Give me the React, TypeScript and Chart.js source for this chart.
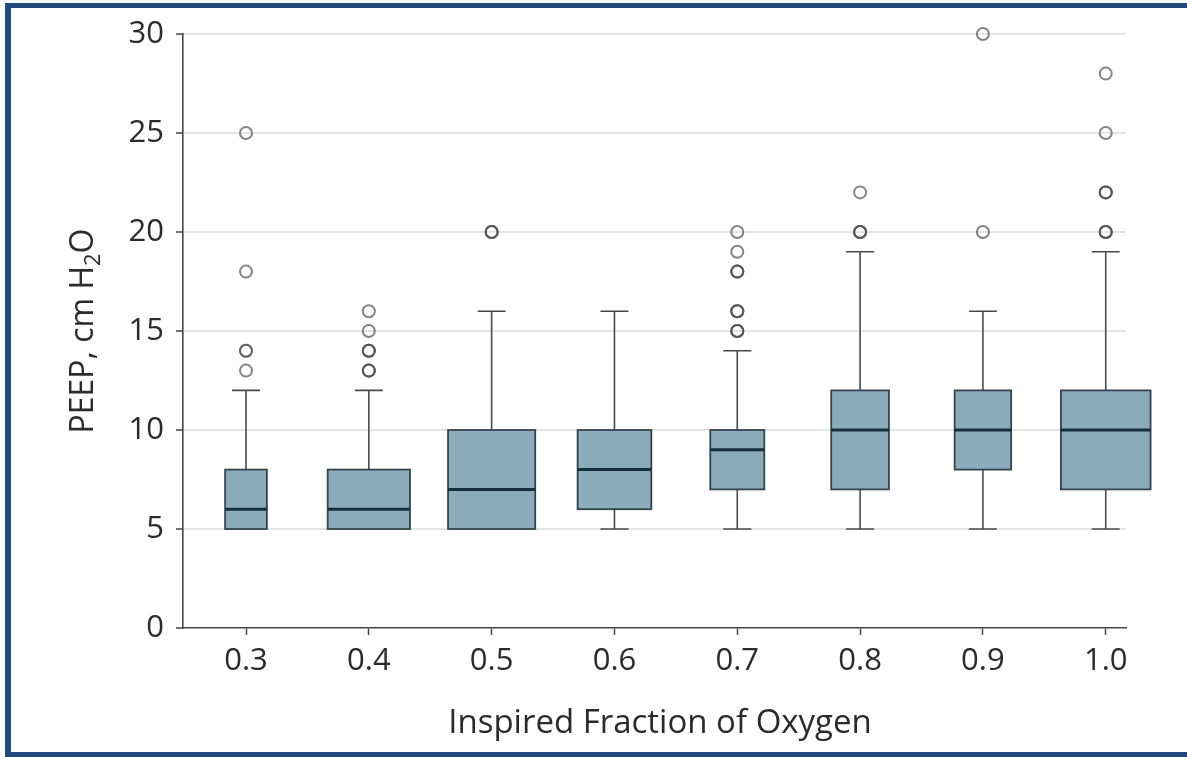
import React, { useEffect, useRef } from "react";
import { Chart, registerables } from "chart.js";

Chart.register(...registerables);

// ---- data ----
const categories = [0.3, 0.4, 0.5, 0.6, 0.7, 0.8, 0.9, 1.0];
const tickLabels = ["0.3", "0.4", "0.5", "0.6", "0.7", "0.8", "0.9", "1.0"];
const whiskerLow = [5, 5, 5, 5, 5, 5, 5, 5];
const q1 = [5, 5, 5, 6, 7, 7, 8, 7];
const median = [6, 6, 7, 8, 9, 10, 10, 10];
const q3 = [8, 8, 10, 10, 10, 12, 12, 12];
const whiskerHigh = [12, 12, 16, 16, 14, 19, 16, 19];
// relative group size (box width, in FiO2 units)
const groupWidth = [0.034, 0.067, 0.071, 0.06, 0.044, 0.047, 0.046, 0.073];
// outliers (repeated values = several patients at the same value)
const outliers03 = [13, 14, 14, 18, 25];
const outliers04 = [13, 13, 13, 14, 14, 14, 15, 16];
const outliers05 = [20, 20, 20];
const outliers06: number[] = [];
const outliers07 = [15, 15, 15, 16, 16, 16, 18, 18, 18, 19, 20];
const outliers08 = [20, 20, 20, 22];
const outliers09 = [20, 30];
const outliers10 = [20, 20, 20, 22, 22, 22, 25, 28];
const outlierGroups = [outliers03, outliers04, outliers05, outliers06, outliers07, outliers08, outliers09, outliers10];
const yTicks = [0, 5, 10, 15, 20, 25, 30];

const FONT = "'Open Sans', 'DejaVu Sans', sans-serif";

const boxPlugin = {
  id: "boxes",
  beforeDatasetsDraw(chart: any) {
    const { ctx, scales } = chart;
    const xs = scales.x;
    const ys = scales.y;
    ctx.save();
    categories.forEach((c, i) => {
      const xc = xs.getPixelForValue(c);
      const xl = xs.getPixelForValue(c - groupWidth[i] / 2);
      const xr = xs.getPixelForValue(c + groupWidth[i] / 2);
      const capHalf = 14;
      const yQ1 = ys.getPixelForValue(q1[i]);
      const yQ3 = ys.getPixelForValue(q3[i]);
      const yMed = ys.getPixelForValue(median[i]);
      const yLo = ys.getPixelForValue(whiskerLow[i]);
      const yHi = ys.getPixelForValue(whiskerHigh[i]);
      // whiskers
      ctx.strokeStyle = "#4a4a4a";
      ctx.lineWidth = 1.6;
      ctx.beginPath();
      ctx.moveTo(xc, yQ3);
      ctx.lineTo(xc, yHi);
      ctx.moveTo(xc - capHalf, yHi);
      ctx.lineTo(xc + capHalf, yHi);
      if (whiskerLow[i] < q1[i]) {
        ctx.moveTo(xc, yQ1);
        ctx.lineTo(xc, yLo);
        ctx.moveTo(xc - capHalf, yLo);
        ctx.lineTo(xc + capHalf, yLo);
      }
      ctx.stroke();
      // box
      ctx.fillStyle = "rgb(140,172,188)";
      ctx.fillRect(xl, yQ3, xr - xl, yQ1 - yQ3);
      ctx.strokeStyle = "#35444b";
      ctx.lineWidth = 1.8;
      ctx.strokeRect(xl, yQ3, xr - xl, yQ1 - yQ3);
      // median
      ctx.strokeStyle = "#14303c";
      ctx.lineWidth = 3;
      ctx.beginPath();
      ctx.moveTo(xl, yMed);
      ctx.lineTo(xr, yMed);
      ctx.stroke();
    });
    ctx.restore();
  },
  afterDraw(chart: any) {
    const { ctx, chartArea } = chart;
    ctx.save();
    ctx.fillStyle = "#2b2b2b";
    // x title
    ctx.font = `33px ${FONT}`;
    ctx.textAlign = "center";
    ctx.textBaseline = "alphabetic";
    ctx.fillText("Inspired Fraction of Oxygen", 660, 733);
    // y title with subscript
    const main1 = "PEEP, cm H";
    const sub = "2";
    const main2 = "O";
    ctx.font = `32px ${FONT}`;
    const w1 = ctx.measureText(main1).width;
    const w3 = ctx.measureText(main2).width;
    ctx.font = `22px ${FONT}`;
    const w2 = ctx.measureText(sub).width;
    const total = w1 + w2 + w3;
    const cy = (chartArea.top + chartArea.bottom) / 2;
    ctx.translate(93, cy);
    ctx.rotate(-Math.PI / 2);
    ctx.textAlign = "left";
    const x0 = -total / 2;
    ctx.font = `32px ${FONT}`;
    ctx.fillText(main1, x0, 0);
    ctx.font = `22px ${FONT}`;
    ctx.fillText(sub, x0 + w1, 7);
    ctx.font = `32px ${FONT}`;
    ctx.fillText(main2, x0 + w1 + w2, 0);
    ctx.restore();
  },
};

export default function App() {
  const ref = useRef<HTMLCanvasElement>(null);
  useEffect(() => {
    if (!ref.current) return;
    const points: { x: number; y: number }[] = [];
    outlierGroups.forEach((g, i) => g.forEach((v) => points.push({ x: categories[i], y: v })));
    const chart = new Chart(ref.current, {
      type: "scatter",
      data: {
        datasets: [
          {
            data: points,
            pointRadius: 6,
            pointHoverRadius: 6,
            pointBorderWidth: 2,
            pointBorderColor: "rgba(85,85,85,0.72)",
            pointBackgroundColor: "rgba(255,255,255,0)",
            clip: false as any,
          },
        ],
      },
      options: {
        animation: false,
        responsive: false,
        events: [],
        layout: { padding: { left: 0, top: 34, right: 61, bottom: 0 } },
        plugins: { legend: { display: false }, tooltip: { enabled: false } },
        scales: {
          x: {
            type: "linear",
            min: 0.2487,
            max: 1.0165,
            afterFit: (s: any) => { s.height = 129; },
            afterBuildTicks: (s: any) => { s.ticks = categories.map((v) => ({ value: v })); },
            ticks: {
              callback: (v: any) => {
                const i = categories.findIndex((c) => Math.abs(c - v) < 1e-6);
                return i >= 0 ? tickLabels[i] : "";
              },
              font: { family: FONT, size: 31 },
              color: "#2b2b2b",
              padding: 8,
              maxRotation: 0,
              autoSkip: false,
            },
            grid: { drawOnChartArea: false, drawTicks: true, tickLength: 7, tickColor: "#444", tickWidth: 1.5 },
            border: { display: true, color: "#444", width: 1.6 },
          },
          y: {
            min: 0,
            max: 30,
            afterFit: (s: any) => { s.width = 183; },
            afterBuildTicks: (s: any) => { s.ticks = yTicks.map((v) => ({ value: v })); },
            ticks: {
              font: { family: FONT, size: 31 },
              color: "#2b2b2b",
              padding: 12,
            },
            grid: {
              color: (c: any) => (c.tick && c.tick.value === 0 ? "rgba(0,0,0,0)" : "#e4e4e4"),
              lineWidth: 2,
              drawTicks: true,
              tickLength: 7,
              tickColor: "#444",
              tickWidth: 1.5,
            },
            border: { display: true, color: "#444", width: 1.6 },
          },
        },
      },
      plugins: [boxPlugin],
    });
    return () => chart.destroy();
  }, []);
  return (
    <div style={{ position: "absolute", left: 0, top: 0, width: 1187, height: 757, background: "#fff", overflow: "hidden" }}>
      <canvas ref={ref} width={1187} height={757} style={{ position: "absolute", left: 0, top: 0 }} />
      <div
        style={{
          position: "absolute",
          left: 5,
          top: 3,
          width: 1300,
          height: 744,
          borderLeft: "6px solid #22497c",
          borderTop: "5px solid #22497c",
          borderBottom: "5px solid #22497c",
          pointerEvents: "none",
        }}
      />
    </div>
  );
}
